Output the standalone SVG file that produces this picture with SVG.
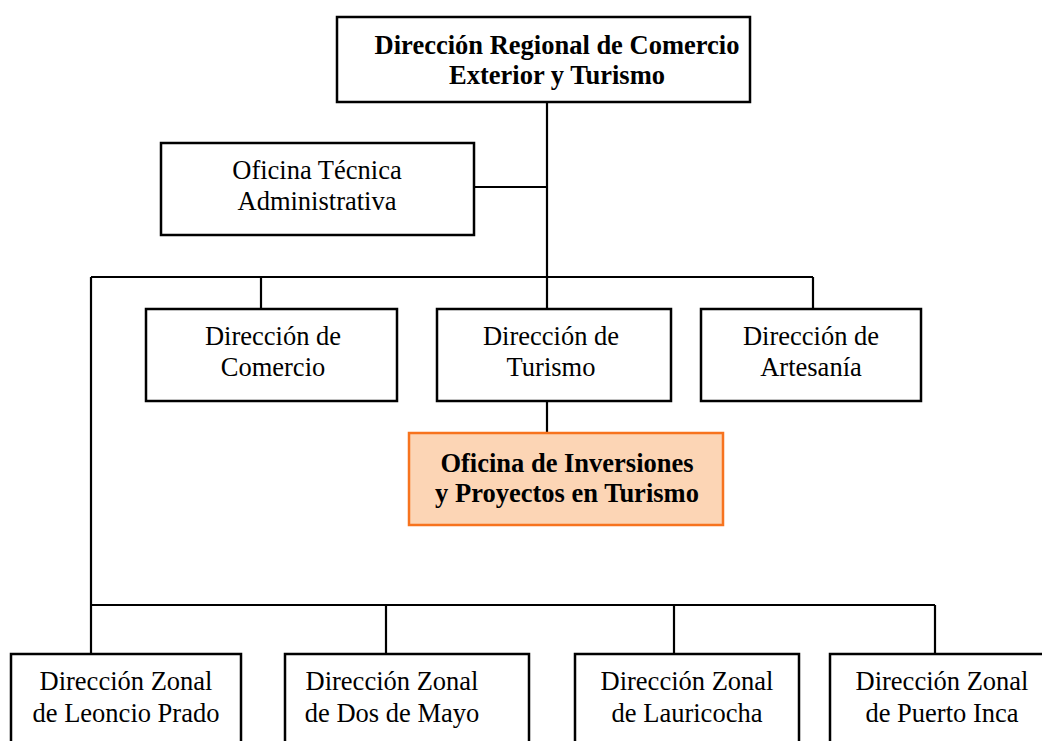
<svg xmlns="http://www.w3.org/2000/svg" width="1042" height="741" viewBox="0 0 1042 741">
<style>
.box{fill:#fff;stroke:#000;stroke-width:2.5}
.hl{fill:#FCD5B5;stroke:#F7731E;stroke-width:2.5}
.ln{stroke:#000;stroke-width:2.2;fill:none}
text{font-family:"Liberation Serif","Times New Roman",serif;font-size:26.5px;fill:#000;text-anchor:middle}
.b{font-weight:bold;font-size:26.5px}
</style>
<rect width="1042" height="741" fill="#fff"/>
<g id="connectors">
<path class="ln" d="M547 102V309M474 187H547M91 277H813M261 277V309M813 277V309M547 401V433M91 277V654M91 605H935M386 605V654M674 605V654M935 605V654"/>
</g>
<g id="n-top"><rect class="box" x="337" y="17" width="413" height="85"/><text class="b" x="557" y="54">Dirección Regional de Comercio</text><text class="b" x="557" y="84">Exterior y Turismo</text></g>
<g id="n-ota"><rect class="box" x="161" y="143" width="313" height="92"/><text x="317" y="179">Oficina Técnica</text><text x="317" y="210">Administrativa</text></g>
<g id="n-com"><rect class="box" x="146" y="309" width="251" height="92"/><text x="273" y="345">Dirección de</text><text x="273" y="376">Comercio</text></g>
<g id="n-tur"><rect class="box" x="437" y="309" width="234" height="92"/><text x="551" y="345">Dirección de</text><text x="551" y="376">Turismo</text></g>
<g id="n-art"><rect class="box" x="701" y="309" width="220" height="92"/><text x="811" y="345">Dirección de</text><text x="811" y="376">Artesanía</text></g>
<g id="n-oipt"><rect class="hl" x="409" y="433" width="314" height="92"/><text class="b" x="567" y="472">Oficina de Inversiones</text><text class="b" x="567" y="502">y Proyectos en Turismo</text></g>
<g id="n-z1"><rect class="box" x="11" y="654" width="230" height="95"/><text x="126" y="690">Dirección Zonal</text><text x="126" y="722">de Leoncio Prado</text></g>
<g id="n-z2"><rect class="box" x="285" y="654" width="244" height="95"/><text x="392" y="690">Dirección Zonal</text><text x="392" y="722">de Dos de Mayo</text></g>
<g id="n-z3"><rect class="box" x="575" y="654" width="224" height="95"/><text x="687" y="690">Dirección Zonal</text><text x="687" y="722">de Lauricocha</text></g>
<g id="n-z4"><rect class="box" x="830" y="654" width="224" height="95"/><text x="942" y="690">Dirección Zonal</text><text x="942" y="722">de Puerto Inca</text></g>
</svg>
